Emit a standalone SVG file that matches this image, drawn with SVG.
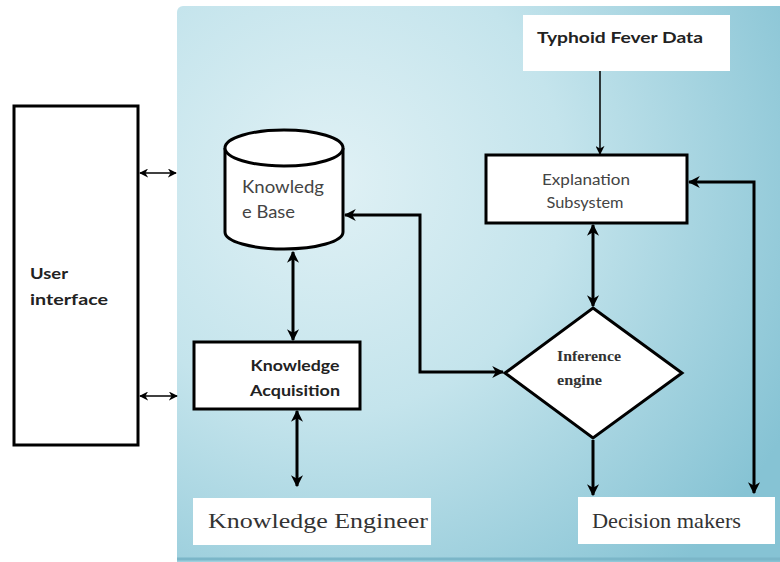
<svg xmlns="http://www.w3.org/2000/svg" width="780" height="562" viewBox="0 0 780 562">
<defs>
<radialGradient id="bg" gradientUnits="userSpaceOnUse" cx="330" cy="180" r="520">
<stop offset="0" stop-color="#e0f1f5"/>
<stop offset="0.45" stop-color="#c4e4ec"/>
<stop offset="1" stop-color="#86c3d4"/>
</radialGradient>
<marker id="ah" viewBox="0 0 10 10" refX="9" refY="5" markerWidth="4" markerHeight="4" orient="auto-start-reverse" markerUnits="strokeWidth">
<path d="M0,0 L10,5 L0,10 L3,5 z" fill="#000"/>
</marker>
<marker id="ahs" viewBox="0 0 10 10" refX="9" refY="5" markerWidth="6" markerHeight="6" orient="auto-start-reverse" markerUnits="strokeWidth">
<path d="M0,0 L10,5 L0,10 L3,5 z" fill="#000"/>
</marker>
</defs>
<style>
.box{fill:#fff;stroke:#000;stroke-width:3}
.plain{fill:#fff;stroke:none}
.thick{fill:none;stroke:#000;stroke-width:3;marker-end:url(#ah)}
.thin{fill:none;stroke:#000;stroke-width:1.5;marker-end:url(#ahs)}
.sans{font-family:Lato,"Open Sans","Liberation Sans",sans-serif}
.serif{font-family:"Liberation Serif","DejaVu Serif",serif}
</style>
<rect x="0" y="0" width="780" height="562" fill="#fff"/>
<rect id="panel" x="177" y="6" width="610" height="564" rx="6" fill="url(#bg)"/>
<line x1="177" y1="559" x2="780" y2="559" stroke="#7bb6c8" stroke-width="3"/>

<g id="user-interface">
<rect class="box" x="14" y="106" width="124" height="339"/>
<text class="sans" x="30" y="279" font-size="16" font-weight="bold" fill="#222" textLength="38" lengthAdjust="spacingAndGlyphs">User</text>
<text class="sans" x="30" y="305" font-size="16" font-weight="bold" fill="#222" textLength="78" lengthAdjust="spacingAndGlyphs">interface</text>
</g>

<g id="knowledge-base">
<path d="M225,148 L225,232 A59,17 0 0 0 343,232 L343,148" fill="#fff" stroke="#000" stroke-width="3"/>
<ellipse cx="284" cy="148" rx="59" ry="18" fill="#fff" stroke="#000" stroke-width="3"/>
<text class="sans" x="242" y="193" font-size="17" fill="#444" textLength="82" lengthAdjust="spacingAndGlyphs">Knowledg</text>
<text class="sans" x="242" y="218" font-size="17" fill="#444" textLength="53" lengthAdjust="spacingAndGlyphs">e Base</text>
</g>

<g id="knowledge-acquisition">
<rect class="box" x="194" y="342" width="166" height="67"/>
<text class="sans" x="295" y="371" font-size="15" font-weight="bold" fill="#222" text-anchor="middle" textLength="89" lengthAdjust="spacingAndGlyphs">Knowledge</text>
<text class="sans" x="295" y="396" font-size="15" font-weight="bold" fill="#222" text-anchor="middle" textLength="90" lengthAdjust="spacingAndGlyphs">Acquisition</text>
</g>

<g id="knowledge-engineer">
<rect class="plain" x="193" y="498" width="238" height="47"/>
<text class="serif" x="208" y="528" font-size="22" fill="#333" textLength="220" lengthAdjust="spacingAndGlyphs">Knowledge Engineer</text>
</g>

<g id="typhoid-data">
<rect class="plain" x="523" y="15" width="207" height="56"/>
<text class="sans" x="620" y="43" font-size="16" font-weight="bold" fill="#222" text-anchor="middle" textLength="166" lengthAdjust="spacingAndGlyphs">Typhoid Fever Data</text>
</g>

<g id="explanation-subsystem">
<rect class="box" x="486" y="155" width="201" height="68"/>
<text class="sans" x="586" y="185" font-size="15" fill="#444" text-anchor="middle" textLength="88" lengthAdjust="spacingAndGlyphs">Explanation</text>
<text class="sans" x="585" y="208" font-size="15" fill="#444" text-anchor="middle" textLength="77" lengthAdjust="spacingAndGlyphs">Subsystem</text>
</g>

<g id="inference-engine">
<polygon points="593,308 682,373 593,438 505,373" fill="#fff" stroke="#000" stroke-width="3" stroke-linejoin="miter"/>
<text class="serif" x="557" y="361" font-size="14" font-weight="bold" fill="#333" textLength="64" lengthAdjust="spacingAndGlyphs">Inference</text>
<text class="serif" x="557" y="385" font-size="14" font-weight="bold" fill="#333" textLength="45" lengthAdjust="spacingAndGlyphs">engine</text>
</g>

<g id="decision-makers">
<rect class="plain" x="578" y="497" width="197" height="47"/>
<text class="serif" x="592" y="528" font-size="21" fill="#333" textLength="149" lengthAdjust="spacingAndGlyphs">Decision makers</text>
</g>

<g id="connectors">
<line class="thin" x1="140" y1="173" x2="176" y2="173" style="marker-start:url(#ahs)"/>
<line class="thin" x1="140" y1="396" x2="177" y2="396" style="marker-start:url(#ahs)"/>
<line class="thick" x1="293" y1="252" x2="293" y2="340" style="marker-start:url(#ah)"/>
<line class="thick" x1="297" y1="411" x2="297" y2="486" style="marker-start:url(#ah)"/>
<polyline class="thick" points="345,215 420,215 420,372 503,372" style="marker-start:url(#ah)"/>
<line class="thin" x1="600" y1="71" x2="600" y2="154"/>
<line class="thick" x1="593" y1="225" x2="593" y2="306" style="marker-start:url(#ah)"/>
<line class="thick" x1="593" y1="440" x2="593" y2="495"/>
<polyline class="thick" points="689,182 754,182 754,493" style="marker-start:url(#ah)"/>
</g>
</svg>
